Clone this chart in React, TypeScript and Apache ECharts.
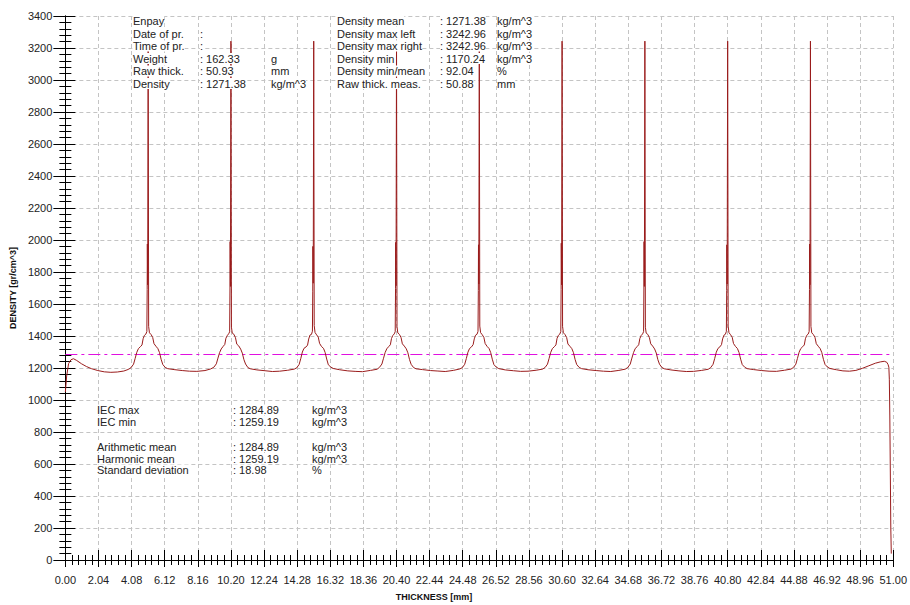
import React, { useEffect, useRef } from "react";
import * as echarts from "echarts";

// ---- axes ----
const X_MIN = 0;
const X_MAX = 51;
const X_STEP = 2.04;
const Y_MIN = 0;
const Y_MAX = 3400;
const Y_STEP = 200;
const X_NAME = "THICKNESS [mm]";
const Y_NAME = "DENSITY [gr/cm^3]";

// ---- reference line (IEC max) ----
const iecMaxLine = 1284.89;

// ---- density profile [thickness mm, density kg/m^3] ----
const profile: [number, number][] = [
  [0.0, 1050], [0.08, 1150], [0.2, 1228], [0.35, 1252], [0.5, 1258], [0.7, 1247], [1.0, 1226], [1.3, 1209],
  [1.6, 1196], [2.0, 1184], [2.4, 1176], [2.8, 1173], [3.2, 1175], [3.6, 1181], [3.9, 1192],
  // peak 1
  [4.05, 1203], [4.2, 1224], [4.3, 1260], [4.4, 1298], [4.5, 1321], [4.62, 1333], [4.72, 1344], [4.79, 1383],
  [4.87, 1404], [4.96, 1412], [5.02, 1428], [5.04, 1690], [5.05, 1975], [5.07, 1720], [5.1, 3243], [5.13, 1460],
  [5.18, 1420], [5.28, 1409], [5.38, 1391], [5.46, 1352], [5.58, 1336], [5.7, 1321], [5.8, 1296], [5.9, 1254],
  [6.0, 1222], [6.15, 1204], [6.3, 1196],
  [6.7, 1190], [7.2, 1184], [7.65, 1180], [8.1, 1179], [8.6, 1184], [8.95, 1194],
  // peak 2
  [9.15, 1205], [9.3, 1226], [9.4, 1262], [9.5, 1296], [9.6, 1319], [9.72, 1335], [9.82, 1347], [9.89, 1386],
  [9.97, 1402], [10.06, 1414], [10.12, 1426], [10.14, 1700], [10.15, 1990], [10.17, 1710], [10.2, 3243], [10.23, 1455],
  [10.28, 1418], [10.38, 1411], [10.48, 1389], [10.56, 1349], [10.68, 1338], [10.8, 1318], [10.9, 1293], [11.0, 1252],
  [11.1, 1225], [11.25, 1202], [11.4, 1195],
  [11.8, 1188], [12.3, 1183], [12.75, 1178], [13.2, 1180], [13.7, 1186], [14.1, 1193],
  // peak 3
  [14.25, 1201], [14.4, 1222], [14.5, 1258], [14.6, 1300], [14.7, 1323], [14.82, 1331], [14.92, 1343], [14.99, 1381],
  [15.07, 1406], [15.16, 1410], [15.22, 1430], [15.24, 1680], [15.25, 1960], [15.27, 1730], [15.3, 3243], [15.33, 1465],
  [15.38, 1422], [15.48, 1407], [15.58, 1393], [15.66, 1354], [15.78, 1334], [15.9, 1323], [16.0, 1298], [16.1, 1256],
  [16.2, 1220], [16.35, 1206], [16.5, 1197],
  [16.9, 1189], [17.4, 1182], [17.85, 1179], [18.3, 1177], [18.8, 1185], [19.2, 1192],
  // peak 4
  [19.35, 1204], [19.5, 1225], [19.6, 1261], [19.7, 1297], [19.8, 1320], [19.92, 1334], [20.02, 1345], [20.09, 1384],
  [20.17, 1403], [20.26, 1413], [20.32, 1427], [20.34, 1695], [20.35, 1985], [20.37, 1715], [20.4, 3243], [20.43, 1458],
  [20.48, 1419], [20.58, 1410], [20.68, 1390], [20.76, 1351], [20.88, 1337], [21.0, 1320], [21.1, 1295], [21.2, 1253],
  [21.3, 1223], [21.45, 1203], [21.6, 1195],
  [22.0, 1190], [22.5, 1184], [22.95, 1181], [23.4, 1178], [23.9, 1185], [24.3, 1194],
  // peak 5
  [24.45, 1202], [24.6, 1223], [24.7, 1259], [24.8, 1299], [24.9, 1322], [25.02, 1332], [25.12, 1346], [25.19, 1382],
  [25.27, 1405], [25.36, 1411], [25.42, 1429], [25.44, 1685], [25.45, 1970], [25.47, 1725], [25.5, 3243], [25.53, 1462],
  [25.58, 1421], [25.68, 1408], [25.78, 1392], [25.86, 1353], [25.98, 1335], [26.1, 1322], [26.2, 1297], [26.3, 1255],
  [26.4, 1221], [26.55, 1205], [26.7, 1196],
  [27.1, 1188], [27.6, 1183], [28.05, 1179], [28.5, 1180], [29.0, 1186], [29.4, 1193],
  // peak 6
  [29.55, 1203], [29.7, 1224], [29.8, 1260], [29.9, 1298], [30.0, 1321], [30.12, 1333], [30.22, 1344], [30.29, 1385],
  [30.37, 1404], [30.46, 1412], [30.52, 1428], [30.54, 1690], [30.55, 1980], [30.57, 1720], [30.6, 3243], [30.63, 1460],
  [30.68, 1420], [30.78, 1409], [30.88, 1391], [30.96, 1350], [31.08, 1336], [31.2, 1321], [31.3, 1296], [31.4, 1254],
  [31.5, 1222], [31.65, 1204], [31.8, 1196],
  [32.2, 1189], [32.7, 1184], [33.15, 1180], [33.6, 1178], [34.1, 1185], [34.5, 1193],
  // peak 7
  [34.65, 1204], [34.8, 1225], [34.9, 1262], [35.0, 1296], [35.1, 1320], [35.22, 1334], [35.32, 1345], [35.39, 1384],
  [35.47, 1403], [35.56, 1413], [35.62, 1427], [35.64, 1700], [35.65, 1990], [35.67, 1710], [35.7, 3243], [35.73, 1455],
  [35.78, 1418], [35.88, 1410], [35.98, 1389], [36.06, 1351], [36.18, 1337], [36.3, 1319], [36.4, 1294], [36.5, 1252],
  [36.6, 1224], [36.75, 1203], [36.9, 1195],
  [37.3, 1188], [37.8, 1182], [38.25, 1178], [38.7, 1179], [39.2, 1185], [39.6, 1192],
  // peak 8
  [39.75, 1202], [39.9, 1223], [40.0, 1259], [40.1, 1299], [40.2, 1322], [40.32, 1332], [40.42, 1346], [40.49, 1382],
  [40.57, 1405], [40.66, 1411], [40.72, 1429], [40.74, 1685], [40.75, 1970], [40.77, 1725], [40.8, 3243], [40.83, 1462],
  [40.88, 1421], [40.98, 1408], [41.08, 1392], [41.16, 1353], [41.28, 1335], [41.4, 1322], [41.5, 1297], [41.6, 1255],
  [41.7, 1221], [41.85, 1205], [42.0, 1196],
  [42.4, 1190], [42.9, 1184], [43.35, 1180], [43.8, 1179], [44.3, 1186], [44.7, 1193],
  // peak 9
  [44.85, 1203], [45.0, 1224], [45.1, 1260], [45.2, 1298], [45.3, 1321], [45.42, 1333], [45.52, 1344], [45.59, 1383],
  [45.67, 1404], [45.76, 1412], [45.82, 1428], [45.84, 1690], [45.85, 1975], [45.87, 1720], [45.9, 3243], [45.93, 1460],
  [45.98, 1420], [46.08, 1409], [46.18, 1391], [46.26, 1352], [46.38, 1336], [46.5, 1321], [46.6, 1296], [46.7, 1254],
  [46.8, 1222], [46.95, 1206], [47.1, 1197],
  // right edge
  [47.5, 1189], [47.9, 1182], [48.3, 1180], [48.7, 1185], [49.1, 1198], [49.5, 1214], [49.9, 1230], [50.2, 1238],
  [50.45, 1242], [50.6, 1236], [50.68, 1222], [50.73, 1205], [50.76, 1130], [50.79, 900], [50.82, 550], [50.85, 200],
  [50.88, 40],
];

// ---- info blocks: [label, value, unit] ----
const sampleInfo: [string, string, string][] = [
  ["Enpay", "", ""],
  ["Date of pr.", ":", ""],
  ["Time of pr.", ":", ""],
  ["Weight", ": 162.33", "g"],
  ["Raw thick.", ": 50.93", "mm"],
  ["Density", ": 1271.38", "kg/m^3"],
];
const densityInfo: [string, string, string][] = [
  ["Density mean", ": 1271.38", "kg/m^3"],
  ["Density max left", ": 3242.96", "kg/m^3"],
  ["Density max right", ": 3242.96", "kg/m^3"],
  ["Density min", ": 1170.24", "kg/m^3"],
  ["Density min/mean", ": 92.04", "%"],
  ["Raw thick. meas.", ": 50.88", "mm"],
];
const iecInfo: [string, string, string][] = [
  ["IEC max", ": 1284.89", "kg/m^3"],
  ["IEC min", ": 1259.19", "kg/m^3"],
  ["Arithmetic mean", ": 1284.89", "kg/m^3"],
  ["Harmonic mean", ": 1259.19", "kg/m^3"],
  ["Standard deviation", ": 18.98", "%"],
];

const FONT = "11px 'Liberation Sans', Arial, sans-serif";
const TEXT_COLOR = "#222";

function infoBlock(
  rows: [string, string, string][],
  cols: [number, number, number],
  rowsY: number[]
) {
  const out: any[] = [];
  rows.forEach((r, i) => {
    r.forEach((t, j) => {
      if (!t) return;
      out.push({
        type: "text",
        z: 100,
        x: cols[j],
        y: rowsY[i],
        style: {
          text: t,
          font: FONT,
          fill: TEXT_COLOR,
          backgroundColor: "#fff",
          textVerticalAlign: "middle",
          verticalAlign: "middle",
        },
      });
    });
  });
  return out;
}

export default function App() {
  const ref = useRef<HTMLDivElement>(null);

  useEffect(() => {
    if (!ref.current) return;
    const chart = echarts.init(ref.current, null, { renderer: "svg" });

    const axisCommon = {
      type: "value" as const,
      axisLine: { show: true, onZero: false, lineStyle: { color: "#000", width: 1 } },
    };
    const lblStyle = { color: "#222", fontSize: 11, fontFamily: "'Liberation Sans', Arial, sans-serif" };

    const topRows = [21, 33.5, 46, 58.5, 71, 83.5];
    const graphic = [
      ...infoBlock(sampleInfo, [133, 200, 271], topRows),
      ...infoBlock(densityInfo, [337, 440, 497], topRows),
      ...infoBlock(iecInfo, [97, 233, 312], [410, 421.5, 446.5, 458.5, 470]),
      {
        type: "text",
        z: 100,
        x: 434,
        y: 597,
        style: {
          text: X_NAME,
          font: "bold 9px 'Liberation Sans', Arial, sans-serif",
          fill: "#111",
          textAlign: "center",
          align: "center",
          textVerticalAlign: "middle",
          verticalAlign: "middle",
        },
      },
    ];

    chart.setOption({
      animation: false,
      backgroundColor: "#fff",
      grid: { left: 63, right: 10, top: 16, bottom: 45, containLabel: false },
      xAxis: [
        {
          ...axisCommon,
          position: "bottom",
          min: X_MIN,
          max: X_MAX,
          interval: X_STEP,
          axisTick: { show: true, inside: false, length: 7, lineStyle: { color: "#000" } },
          minorTick: { show: true, splitNumber: 5, length: 5, lineStyle: { color: "#000" } },
          axisLabel: {
            ...lblStyle,
            margin: 14,
            showMaxLabel: true,
            showMinLabel: true,
            formatter: (v: number) => v.toFixed(2),
          },
          splitLine: { show: true, lineStyle: { color: "#c4c4c4", type: [4, 3], width: 1 } },
        },
        {
          ...axisCommon,
          position: "bottom",
          min: X_MIN,
          max: X_MAX,
          interval: X_STEP,
          axisTick: { show: true, inside: true, length: 10, lineStyle: { color: "#000" } },
          minorTick: { show: true, splitNumber: 5, length: 5, lineStyle: { color: "#000" } },
          axisLabel: { show: false },
          splitLine: { show: false },
        },
      ],
      yAxis: [
        {
          ...axisCommon,
          position: "left",
          min: Y_MIN,
          max: Y_MAX,
          interval: Y_STEP,
          name: Y_NAME,
          nameLocation: "middle",
          nameGap: 44,
          nameRotate: 90,
          nameTextStyle: {
            fontSize: 9,
            fontWeight: "bold",
            color: "#111",
            fontFamily: "'Liberation Sans', Arial, sans-serif",
          },
          axisTick: { show: true, inside: false, length: 12, lineStyle: { color: "#000" } },
          minorTick: { show: true, splitNumber: 5, length: 6, lineStyle: { color: "#000" } },
          axisLabel: { ...lblStyle, margin: 13, formatter: (v: number) => String(v) },
          splitLine: { show: true, lineStyle: { color: "#c4c4c4", type: [4, 3], width: 1 } },
        },
        {
          ...axisCommon,
          position: "left",
          min: Y_MIN,
          max: Y_MAX,
          interval: Y_STEP,
          axisTick: { show: true, inside: true, length: 10, lineStyle: { color: "#000" } },
          minorTick: { show: true, splitNumber: 5, length: 6, lineStyle: { color: "#000" } },
          axisLabel: { show: false },
          splitLine: { show: false },
        },
      ],
      series: [
        {
          type: "line",
          xAxisIndex: 0,
          yAxisIndex: 0,
          data: profile,
          showSymbol: false,
          symbol: "none",
          lineStyle: { color: "#9a1c1c", width: 1 },
          z: 5,
          markLine: {
            silent: true,
            symbol: ["none", "none"],
            label: { show: false },
            lineStyle: { color: "#e010e0", type: [12, 4, 3, 4], width: 1 },
            data: [{ yAxis: iecMaxLine }],
          },
        },
      ],
      graphic,
    });

    return () => chart.dispose();
  }, []);

  return (
    <div
      ref={ref}
      style={{ position: "absolute", left: 0, top: 0, width: 910, height: 605, background: "#fff" }}
    />
  );
}
